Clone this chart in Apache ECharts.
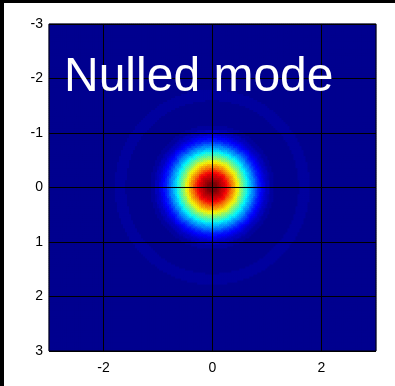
<!DOCTYPE html>
<html>
<head>
<meta charset="utf-8">
<script src="https://cdn.jsdelivr.net/npm/echarts@6/dist/echarts.min.js"></script>
<style>
  html, body { margin: 0; padding: 0; background: #fff; }
  #chart { width: 395px; height: 386px; }
</style>
</head>
<body>
<div id="chart"></div>
<script>
// Normalised intensity of the mode against radius, one sample every radialStep units
const radialStep = 0.025;
const radialProfile = [
  1.000, 0.999, 0.994, 0.988, 0.978, 0.966, 0.952, 0.935, 0.916, 0.895,
  0.872, 0.847, 0.820, 0.791, 0.761, 0.730, 0.698, 0.666, 0.632, 0.599,
  0.565, 0.531, 0.497, 0.464, 0.431, 0.398, 0.366, 0.336, 0.306, 0.278,
  0.251, 0.225, 0.201, 0.177, 0.156, 0.136, 0.118, 0.101, 0.085, 0.072,
  0.059, 0.048, 0.038, 0.030, 0.022, 0.016, 0.011, 0.007, 0.004, 0.002,
  0.001, 0.000, 0.001, 0.001, 0.002, 0.002, 0.003, 0.005, 0.007, 0.009,
  0.011, 0.013, 0.0145, 0.0155, 0.0162, 0.0167, 0.0171, 0.0173, 0.0172, 0.0169,
  0.0164, 0.0158, 0.0151, 0.0142, 0.0132, 0.0120, 0.0107, 0.0093, 0.0078, 0.0063,
  0.0048, 0.0034, 0.0020, 0.0010, 0.0000
];

const axisRange = [-3, 3];
const xTickLabels = [-2, 0, 2];
const yTickLabels = [-3, -2, -1, 0, 1, 2, 3];
const cellsPerSide = 163;
const titleText = 'Nulled mode';

// 64-level jet colormap
function buildJet() {
  const u = [];
  for (let k = 1; k <= 16; k++) u.push(k / 16);
  for (let k = 0; k < 15; k++) u.push(1);
  for (let k = 16; k >= 1; k--) u.push(k / 16);
  const out = [];
  for (let row = 1; row <= 64; row++) {
    const r = row >= 25 ? u[row - 25] : 0;
    const g = (row >= 9 && row <= 55) ? u[row - 9] : 0;
    const b = row <= 39 ? u[row + 7] : 0;
    out.push('rgb(' + Math.round(r * 255) + ',' + Math.round(g * 255) + ',' + Math.round(b * 255) + ')');
  }
  return out;
}
const jet = buildJet();
const pieces = jet.map((c, k) => k === 63
  ? { gte: k / 64, lte: 1, color: c }
  : { gte: k / 64, lt: (k + 1) / 64, color: c });

// Cell grid over the field of view; each cell takes the profile value at its radius
const cellSize = (axisRange[1] - axisRange[0]) / cellsPerSide;
const cellCentres = [];
for (let i = 0; i < cellsPerSide; i++) cellCentres.push((axisRange[0] + (i + 0.5) * cellSize).toFixed(4));
const cells = [];
for (let i = 0; i < cellsPerSide; i++) {
  for (let j = 0; j < cellsPerSide; j++) {
    const x = +cellCentres[i], y = +cellCentres[j];
    const idx = Math.round(Math.sqrt(x * x + y * y) / radialStep);
    const v = idx < radialProfile.length ? radialProfile[idx] : 0;
    cells.push([i, j, v]);
  }
}

const gridRect = { left: 49, top: 24, width: 327, height: 327 };
const labelFont = { color: '#000', fontSize: 14, fontFamily: '"Liberation Sans", Arial, sans-serif' };

const chart = echarts.init(document.getElementById('chart'), null, { renderer: 'canvas' });
chart.setOption({
  animation: false,
  backgroundColor: '#fff',
  grid: [
    Object.assign({ show: true, borderWidth: 0, backgroundColor: jet[0] }, gridRect),
    Object.assign({ show: true, zlevel: 1, borderColor: '#000', borderWidth: 1, backgroundColor: 'transparent' }, gridRect)
  ],
  xAxis: [
    { type: 'category', gridIndex: 0, data: cellCentres, show: false },
    {
      type: 'value', gridIndex: 1, min: axisRange[0], max: axisRange[1], zlevel: 1,
      axisLine: { show: false },
      axisTick: { show: true, inside: true, length: 3, customValues: xTickLabels, lineStyle: { color: '#000' } },
      axisLabel: Object.assign({ customValues: xTickLabels, margin: 10 }, labelFont),
      splitLine: { show: true, lineStyle: { color: '#000', width: 1 } }
    }
  ],
  yAxis: [
    { type: 'category', gridIndex: 0, data: cellCentres, show: false, inverse: true },
    {
      type: 'value', gridIndex: 1, min: axisRange[0], max: axisRange[1], inverse: true, zlevel: 1,
      axisLine: { show: false },
      axisTick: { show: true, inside: true, length: 3, customValues: yTickLabels, lineStyle: { color: '#000' } },
      axisLabel: Object.assign({ customValues: yTickLabels, margin: 6 }, labelFont),
      splitLine: { show: true, lineStyle: { color: '#000', width: 1 } }
    }
  ],
  visualMap: {
    type: 'piecewise', show: false, seriesIndex: 0, dimension: 2, pieces: pieces
  },
  series: [{
    type: 'heatmap',
    xAxisIndex: 0, yAxisIndex: 0,
    data: cells,
    progressive: 0,
    emphasis: { disabled: true },
    silent: true
  }],
  graphic: [
    { type: 'rect', zlevel: 2, shape: { x: 0, y: 0, width: 395, height: 3 }, style: { fill: '#000' } },
    { type: 'rect', zlevel: 2, shape: { x: 0, y: 0, width: 4, height: 386 }, style: { fill: '#000' } },
    {
      type: 'text', zlevel: 2, x: 64, y: 78,
      style: {
        text: titleText, fill: '#fff',
        font: '48px "Liberation Sans", Arial, sans-serif',
        textAlign: 'left', textVerticalAlign: 'middle'
      }
    }
  ]
});
</script>
</body>
</html>
